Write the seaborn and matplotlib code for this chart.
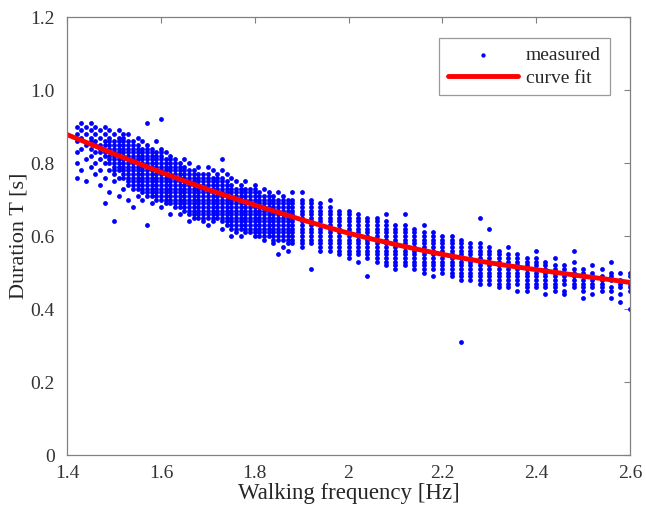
import matplotlib
matplotlib.use("Agg")
import matplotlib.pyplot as plt
import seaborn as sns
import pandas as pd

# measured durations, grouped by walking frequency column (durations in centiseconds)
col_freq = [
    1.42, 1.43, 1.44, 1.45, 1.46, 1.47, 1.48, 1.49, 1.50, 1.51, 1.52, 1.53, 1.54,
    1.55, 1.56, 1.57, 1.58, 1.59, 1.60, 1.61, 1.62, 1.63, 1.64, 1.65, 1.66, 1.67,
    1.68, 1.69, 1.70, 1.71, 1.72, 1.73, 1.74, 1.75, 1.76, 1.77, 1.78, 1.79, 1.80,
    1.81, 1.82, 1.83, 1.84, 1.85, 1.86, 1.87, 1.88,
    1.90, 1.92, 1.94, 1.96, 1.98, 2.00, 2.02, 2.04, 2.06, 2.08, 2.10, 2.12, 2.14,
    2.16, 2.18, 2.20, 2.22, 2.24, 2.26, 2.28, 2.30, 2.32, 2.34, 2.36, 2.38, 2.40,
    2.42, 2.44, 2.46, 2.48, 2.50, 2.52, 2.54, 2.56, 2.58, 2.60,
]
col_dur = [
    [76, 80, 83, 86, 88, 90],
    [78, 84, 87, 89, 91],
    [75, 81, 85, 88, 90],
    [79, 82, 84, 86, 87, 89, 91],
    [77, 80, 83, 85, 86, 88, 90],
    [74, 78, 81, 83, 84, 85, 87, 89],
    [69, 76, 80, 82, 83, 85, 86, 88, 90],
    [72, 78, 80, 81, 82, 84, 85, 86, 87, 89],
    [64, 75, 77, 78, 79, 80, 81, 82, 83, 84, 85, 86, 88],
    [71, 76, 78, 79, 80, 81, 82, 83, 84, 85, 86, 87, 89],
    [73, 76, 77, 78, 79, 80, 81, 82, 83, 84, 85, 86, 87, 88],
    [70, 74, 75, 76, 77, 78, 79, 80, 81, 82, 83, 84, 85, 86, 88],
    [68, 73, 74, 75, 76, 77, 78, 79, 80, 81, 82, 83, 84, 85, 86],
    [71, 73, 74, 75, 76, 77, 78, 79, 80, 81, 82, 83, 84, 85, 87],
    [70, 72, 73, 74, 75, 76, 77, 78, 79, 80, 81, 82, 83, 84, 86],
    [63, 71, 72, 73, 74, 75, 76, 77, 78, 79, 80, 81, 82, 83, 84, 85, 91],
    [69, 71, 72, 73, 74, 75, 76, 77, 78, 79, 80, 81, 82, 83, 84],
    [70, 71, 72, 73, 74, 75, 76, 77, 78, 79, 80, 81, 82, 83, 86],
    [68, 70, 71, 72, 73, 74, 75, 76, 77, 78, 79, 80, 81, 82, 83, 84, 92],
    [69, 70, 71, 72, 73, 74, 75, 76, 77, 78, 79, 80, 81, 83],
    [66, 69, 70, 71, 72, 73, 74, 75, 76, 77, 78, 79, 80, 81, 82],
    [68, 69, 70, 71, 72, 73, 74, 75, 76, 77, 78, 79, 80, 81],
    [66, 68, 69, 70, 71, 72, 73, 74, 75, 76, 77, 78, 79, 80],
    [67, 68, 69, 70, 71, 72, 73, 74, 75, 76, 77, 78, 79, 81],
    [64, 66, 67, 68, 69, 70, 71, 72, 73, 74, 75, 76, 77, 78, 80],
    [65, 66, 67, 68, 69, 70, 71, 72, 73, 74, 75, 76, 77, 78],
    [65, 66, 67, 68, 69, 70, 71, 72, 73, 74, 75, 76, 77, 79],
    [64, 65, 66, 67, 68, 69, 70, 71, 72, 73, 74, 75, 76, 77],
    [63, 65, 66, 67, 68, 69, 70, 71, 72, 73, 74, 75, 76, 77, 79],
    [64, 65, 66, 67, 68, 69, 70, 71, 72, 73, 74, 75, 76, 78],
    [65, 66, 67, 68, 69, 70, 71, 72, 73, 74, 75, 76, 77],
    [62, 64, 65, 66, 67, 68, 69, 70, 71, 72, 73, 74, 75, 76, 78, 81],
    [63, 64, 65, 66, 67, 68, 69, 70, 71, 72, 73, 74, 75, 77],
    [60, 62, 63, 64, 65, 66, 67, 68, 69, 70, 71, 72, 73, 74, 76],
    [61, 62, 63, 64, 65, 66, 67, 68, 69, 70, 71, 72, 73, 75],
    [60, 62, 63, 64, 65, 66, 67, 68, 69, 70, 71, 72, 73, 74],
    [61, 62, 63, 64, 65, 66, 67, 68, 69, 70, 71, 72, 73, 75],
    [61, 62, 63, 64, 65, 66, 67, 68, 69, 70, 71, 72, 73],
    [60, 61, 62, 63, 64, 65, 66, 67, 68, 69, 70, 71, 72, 73, 74],
    [60, 61, 62, 63, 64, 65, 66, 67, 68, 69, 70, 71, 72],
    [59, 60, 61, 62, 63, 64, 65, 66, 67, 68, 69, 70, 71, 73],
    [60, 61, 62, 63, 64, 65, 66, 67, 68, 69, 70, 71, 72],
    [58, 59, 60, 61, 62, 63, 64, 65, 66, 67, 68, 69, 70, 71],
    [55, 59, 60, 61, 62, 63, 64, 65, 66, 67, 68, 69, 70, 72],
    [57, 59, 60, 61, 62, 63, 64, 65, 66, 67, 68, 69, 70, 71],
    [56, 58, 59, 60, 61, 62, 63, 64, 65, 66, 67, 68, 69, 70],
    [58, 59, 60, 61, 62, 63, 64, 65, 66, 67, 68, 69, 70, 72],
    [57, 58, 59, 60, 61, 62, 63, 64, 65, 66, 67, 68, 69, 70, 72],
    [51, 58, 59, 60, 61, 62, 63, 64, 65, 66, 67, 68, 69, 70],
    [56, 57, 58, 59, 60, 61, 62, 63, 64, 65, 66, 67, 68, 69],
    [56, 57, 58, 59, 60, 61, 62, 63, 64, 65, 66, 67, 68, 70],
    [55, 56, 57, 58, 59, 60, 61, 62, 63, 64, 65, 66, 67],
    [54, 55, 56, 57, 58, 59, 60, 61, 62, 63, 64, 65, 66, 67],
    [53, 55, 56, 57, 58, 59, 60, 61, 62, 63, 64, 65, 66],
    [49, 54, 55, 56, 57, 58, 59, 60, 61, 62, 63, 64, 65],
    [53, 54, 55, 56, 57, 58, 59, 60, 61, 62, 63, 64, 65],
    [52, 53, 54, 55, 56, 57, 58, 59, 60, 61, 62, 63, 64, 66],
    [51, 52, 53, 54, 55, 56, 57, 58, 59, 60, 61, 62, 63],
    [52, 53, 54, 55, 56, 57, 58, 59, 60, 61, 62, 63, 66],
    [51, 52, 53, 54, 55, 56, 57, 58, 59, 60, 61, 62],
    [50, 51, 52, 53, 54, 55, 56, 57, 58, 59, 60, 61, 63],
    [49, 51, 52, 53, 54, 55, 56, 57, 58, 59, 60, 61],
    [50, 51, 52, 53, 54, 55, 56, 57, 58, 59, 60],
    [49, 50, 51, 52, 53, 54, 55, 56, 57, 58, 59, 60],
    [31, 48, 49, 50, 51, 52, 53, 54, 55, 56, 57, 58, 59],
    [48, 49, 50, 51, 52, 53, 54, 55, 56, 57, 58],
    [47, 48, 49, 50, 51, 52, 53, 54, 55, 56, 57, 58, 65],
    [47, 48, 49, 50, 51, 52, 53, 54, 55, 56, 57, 62],
    [46, 47, 48, 49, 50, 51, 52, 53, 54, 55, 56],
    [46, 47, 48, 49, 50, 51, 52, 53, 54, 55, 57],
    [45, 47, 48, 49, 50, 51, 52, 53, 54, 55],
    [45, 46, 47, 48, 49, 50, 51, 52, 53, 54],
    [46, 47, 48, 49, 50, 51, 52, 53, 54, 56],
    [44, 46, 47, 48, 49, 50, 51, 52, 53],
    [45, 46, 47, 48, 49, 50, 51, 52, 54],
    [44, 45, 47, 48, 49, 50, 51, 52],
    [46, 47, 48, 49, 50, 51, 53, 56],
    [43, 45, 46, 47, 48, 49, 50, 51],
    [44, 46, 47, 48, 49, 50, 52],
    [45, 46, 47, 48, 49, 51],
    [43, 45, 46, 48, 49, 50, 53],
    [42, 44, 46, 47, 48, 50],
    [40, 45, 46, 47, 49, 50],
]

# fitted curve
fit_freq = [1.40, 1.45, 1.50, 1.55, 1.60, 1.65, 1.70, 1.75, 1.80, 1.85, 1.90, 1.95, 2.00,
            2.05, 2.10, 2.15, 2.20, 2.25, 2.30, 2.35, 2.40, 2.45, 2.50, 2.55, 2.60]
fit_dur = [0.878, 0.852, 0.825, 0.800, 0.775, 0.751, 0.728, 0.706, 0.685, 0.665, 0.645,
           0.626, 0.608, 0.592, 0.577, 0.563, 0.550, 0.538, 0.527, 0.517, 0.508, 0.499,
           0.490, 0.482, 0.473]

x_ticks = [1.4, 1.6, 1.8, 2.0, 2.2, 2.4, 2.6]
x_ticklabels = ["1.4", "1.6", "1.8", "2", "2.2", "2.4", "2.6"]
y_ticks = [0, 0.2, 0.4, 0.6, 0.8, 1.0, 1.2]
y_ticklabels = ["0", "0.2", "0.4", "0.6", "0.8", "1.0", "1.2"]

rows = []
for f, durs in zip(col_freq, col_dur):
    for d in durs:
        rows.append((f, d / 100))
measured = pd.DataFrame(rows, columns=["freq", "dur"])
fit = pd.DataFrame({"freq": fit_freq, "dur": fit_dur})

sns.set_theme(style="white")
plt.rcParams["font.family"] = ["Liberation Serif", "DejaVu Serif"]

fig = plt.figure(figsize=(6.46, 5.2), dpi=100)
ax = fig.add_axes([0.104, 0.125, 0.871, 0.842])

sns.scatterplot(data=measured, x="freq", y="dur", ax=ax, color="#0000ff",
                s=12, linewidth=0, label="measured")
sns.lineplot(data=fit, x="freq", y="dur", ax=ax, color="#ff0000",
             linewidth=3.5, label="curve fit")

ax.set_xlim(1.4, 2.6)
ax.set_ylim(0, 1.2)
ax.set_xticks(x_ticks)
ax.set_xticklabels(x_ticklabels)
ax.set_yticks(y_ticks)
ax.set_yticklabels(y_ticklabels)
ax.tick_params(axis="both", which="both", labelsize=14, labelcolor="#333333",
               color="#808080", length=4, width=0.8, top=True, right=True,
               direction="in")
ax.tick_params(axis="x", pad=7)
ax.tick_params(axis="y", pad=9)
for sp in ax.spines.values():
    sp.set_color("#808080")
    sp.set_linewidth(0.9)

ax.set_xlabel("Walking frequency [Hz]", fontsize=16.5, color="#262626", labelpad=1)
ax.set_ylabel("Duration T [s]", fontsize=16, color="#262626", labelpad=1)

leg = ax.legend(loc="upper right", bbox_to_anchor=(0.964, 0.953), fontsize=14,
                frameon=True, fancybox=False, edgecolor="#808080",
                handlelength=3.6, markerscale=0.9, borderpad=0.45,
                labelspacing=0.25, handletextpad=0.4, borderaxespad=0)
leg.get_frame().set_linewidth(0.9)
for t in leg.get_texts():
    t.set_color("#262626")

fig.savefig("out.png", dpi=100)
